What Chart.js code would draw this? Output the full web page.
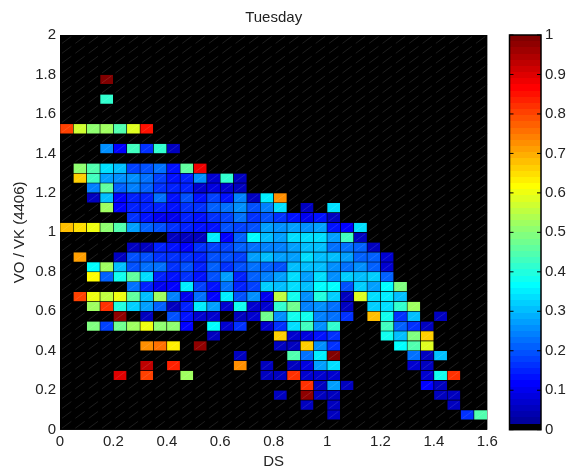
<!DOCTYPE html>
<html>
<head>
<meta charset="utf-8">
<title>Tuesday</title>
<script src="https://cdn.jsdelivr.net/npm/chart.js@4"></script>
<style>
    html, body { margin: 0; padding: 0; background: #fff; }
    #wrap { position: relative; width: 570px; height: 469px; overflow: hidden; }
    #wrap canvas { position: absolute; top: 0; }
    #heatChart { left: 0; }
    #barChart { left: 495px; }
</style>
</head>
<body>
<div id="wrap">
    <canvas id="heatChart" width="570" height="469"></canvas>
    <canvas id="barChart" width="75" height="469"></canvas>
</div>
<script>
const titleText = 'Tuesday';
const xLabel = 'DS';
const yLabel = 'VO / VK (4406)';
const xTicks = [0, 0.2, 0.4, 0.6, 0.8, 1, 1.2, 1.4, 1.6];
const yTicks = [0, 0.2, 0.4, 0.6, 0.8, 1, 1.2, 1.4, 1.6, 1.8, 2];
const barTicks = [0, 0.1, 0.2, 0.3, 0.4, 0.5, 0.6, 0.7, 0.8, 0.9, 1];
const binSize = 0.05;
const colCount = 32;

// first row is the bottom one (y 0 - 0.05), cells left out on the right are empty
const cellRows = [
    [],
    [0,0,0,0,0,0,0,0,0,0,0,0,0,0,0,0,0,0,0,0,.06,0,0,0,0,0,0,0,0,0,.17,.44],
    [0,0,0,0,0,0,0,0,0,0,0,0,0,0,0,0,0,0,.06,0,.06,0,0,0,0,0,0,0,0,.06],
    [0,0,0,0,0,0,0,0,0,0,0,0,0,0,0,0,.06,0,.98,.06,.06,0,0,0,0,0,0,0,.06,.06],
    [0,0,0,0,0,0,0,0,0,0,0,0,0,0,0,0,0,0,.82,.06,.27,.06,0,0,0,0,0,.12,.06],
    [0,0,0,0,.9,0,.8,0,0,.53,0,0,0,0,0,.06,.06,.82,.07,.07,.07,0,0,0,0,0,0,.07,.38,.82],
    [0,0,0,0,0,0,.93,0,.83,0,0,0,0,.72,0,.06,0,.06,.08,.28,.33,0,0,0,0,0,.07,.06],
    [0,0,0,0,0,0,0,0,0,0,0,0,0,.06,0,0,0,.44,.23,.35,1,0,0,0,0,0,.22,.06,.31],
    [0,0,0,0,0,0,.72,.76,.63,0,.98,0,0,0,0,0,.06,.06,.67,.25,.17,0,0,0,0,.37,.45,.58],
    [0,0,0,0,0,0,0,0,0,0,0,.06,0,0,0,0,.67,.07,.08,.13,.16,0,0,0,.38,.3,.49,.67],
    [0,0,.49,.18,.48,.53,.6,.51,.5,.12,0,.37,.07,.16,0,.07,.17,.33,.43,.25,.41,0,0,0,.43,.21,.16,.05],
    [0,0,0,0,.98,0,.05,0,.19,.14,.07,.07,0,.06,.07,.48,.25,.38,.38,.24,.22,.17,0,.68,.38,.17,.3,0,.05],
    [0,0,.53,.82,.4,.32,.28,.21,.06,.15,.35,.27,.07,.39,.07,.07,.41,.47,.24,.25,.23,.06,0,.32,.34,.41,.53],
    [0,.8,.6,.55,.6,.46,.31,.52,.24,.1,.23,.11,.35,.19,.25,.1,.55,.38,.25,.4,.32,.06,.58,.33,.35,.3],
    [0,0,0,0,0,.23,.15,.1,.12,.35,.18,.13,.23,.15,.18,.32,.3,.34,.3,.37,.37,.19,.32,.27,.36,.49],
    [0,0,.62,.21,.38,.46,.34,.15,.14,.16,.14,.2,.27,.15,.21,.24,.27,.34,.27,.34,.25,.32,.3,.32,.21],
    [0,0,.37,.53,.3,.2,.22,.23,.17,.19,.15,.21,.17,.19,.23,.21,.19,.3,.3,.31,.25,.23,.26,.21,.07],
    [0,.71,0,0,.05,.19,.2,.16,.17,.16,.15,.2,.2,.18,.27,.3,.27,.27,.34,.31,.31,.27,.21,.21,.07],
    [0,0,0,0,0,.06,.06,.15,.13,.12,.17,.18,.18,.21,.22,.24,.24,.28,.3,.3,.22,.23,.21,.05],
    [0,0,0,0,0,0,0,0,.06,.06,.05,.35,.11,.21,.36,.31,.27,.34,.33,.33,.27,.43,.05],
    [.68,.65,.6,.5,.45,.27,.21,.2,.17,.15,.13,.13,.19,.18,.2,.28,.25,.28,.26,.28,.13,.11,.33],
    [0,0,0,0,0,.16,.13,.1,.1,.15,.13,.17,.18,.23,.17,.2,.17,.13,.1,.13,.05],
    [0,0,0,.53,.12,.15,.15,.15,.14,.16,.17,.21,.23,.26,.19,.24,.33,0,.05,0,.33],
    [0,0,.05,.3,.11,.15,.15,.22,.13,.2,.13,.18,.14,.24,.05,.35,.72],
    [0,0,.24,.46,.21,.24,.21,.16,.15,.15,.07,.09,.07,.05],
    [0,.66,.43,.27,.25,.26,.23,.18,.14,.15,.25,.07,.41,.05],
    [0,.5,.44,.33,.31,.18,.2,.23,.13,.46,.88],
    [],
    [0,0,0,.25,.12,.43,.17,.42,.05],
    [],
    [.8,.57,.5,.52,.45,.58,.85],
    [],
    [],
    [0,0,0,.42],
    [],
    [0,0,0,.99],
    [],
    [],
    [],
    []
];

const clamp01 = v => Math.max(0, Math.min(1, v));

// 64 step jet map where the lowest step is black
function levelColor(v) {
    const idx = Math.min(63, Math.floor(v * 64));
    if (idx === 0) return 'rgb(0,0,0)';
    const t = (idx + 1) / 64;
    const r = clamp01(Math.min(4 * t - 1.5, -4 * t + 4.5));
    const g = clamp01(Math.min(4 * t - 0.5, -4 * t + 3.5));
    const b = clamp01(Math.min(4 * t + 0.5, -4 * t + 2.5));
    return `rgb(${Math.round(r * 255)},${Math.round(g * 255)},${Math.round(b * 255)})`;
}

const cells = [];
cellRows.forEach((row, r) => {
    for (let c = 0; c < colCount; c++) {
        cells.push({
            x: (c + 0.5) * binSize,
            y: [r * binSize, (r + 1) * binSize],
            v: row[c] || 0
        });
    }
});

const font = { family: '"Liberation Sans", Arial, sans-serif', size: 15 };
const inkColor = '#222';

// black backing, then thin diagonal seams across every cell
const seamPlugin = {
    id: 'seams',
    beforeDatasetsDraw(chart) {
        const { ctx, chartArea: a } = chart;
        ctx.save();
        ctx.fillStyle = '#000';
        ctx.fillRect(a.left, a.top, a.right - a.left, a.bottom - a.top);
        ctx.restore();
    },
    afterDatasetsDraw(chart) {
        const { ctx, scales: { x, y } } = chart;
        ctx.save();
        ctx.strokeStyle = 'rgba(255,255,255,0.2)';
        ctx.lineWidth = 0.6;
        ctx.beginPath();
        cells.forEach(cell => {
            const x0 = x.getPixelForValue(cell.x - binSize / 2) + 2;
            const x1 = x.getPixelForValue(cell.x + binSize / 2) - 2;
            const y0 = y.getPixelForValue(cell.y[0]) - 1.5;
            const y1 = y.getPixelForValue(cell.y[1]) + 1.5;
            ctx.moveTo(x0, y0);
            ctx.lineTo(x1, y1);
        });
        ctx.stroke();
        ctx.restore();
    }
};

new Chart(document.getElementById('heatChart'), {
    type: 'bar',
    data: {
        datasets: [{
            data: cells,
            backgroundColor: c => levelColor(c.raw.v),
            borderColor: '#000',
            borderWidth: 0.6,
            borderSkipped: false,
            barPercentage: 1,
            categoryPercentage: 1
        }]
    },
    options: {
        responsive: false,
        animation: false,
        events: [],
        layout: { padding: { left: 0, right: 82.7, top: 0, bottom: 0 } },
        plugins: {
            legend: { display: false },
            tooltip: { enabled: false },
            title: {
                display: true,
                text: titleText,
                color: inkColor,
                fullSize: false,
                font: { family: font.family, size: 15, weight: 'normal' },
                padding: { top: 9, bottom: 8 }
            }
        },
        scales: {
            x: {
                type: 'linear',
                offset: false,
                min: 0,
                max: 1.6,
                grid: { display: false, drawTicks: false },
                border: { display: false },
                afterBuildTicks: s => { s.ticks = xTicks.map(v => ({ value: v })); },
                afterFit: s => { s.height = 39.3; },
                ticks: { color: inkColor, font, autoSkip: false, maxRotation: 0, padding: 3, callback: v => String(v) },
                title: { display: true, text: xLabel, color: inkColor, font: { ...font, lineHeight: 1 }, padding: 0 }
            },
            y: {
                type: 'linear',
                min: 0,
                max: 2,
                grid: { display: false, drawTicks: false },
                border: { display: false },
                afterBuildTicks: s => { s.ticks = yTicks.map(v => ({ value: v })); },
                afterFit: s => { s.width = 60; },
                ticks: { color: inkColor, font, autoSkip: false, padding: 4, callback: v => String(v) },
                title: { display: true, text: yLabel, color: inkColor, font, padding: { top: 11, bottom: 0 } }
            }
        }
    },
    plugins: [seamPlugin]
});

// colour bar: one bar from 0 to 1 filled with the stepped colour map
function stepGradient(c) {
    const area = c.chart.chartArea;
    if (!area) return '#000';
    const g = c.chart.ctx.createLinearGradient(0, area.bottom, 0, area.top);
    for (let i = 0; i < 64; i++) {
        const col = levelColor((i + 0.5) / 64);
        g.addColorStop(i / 64, col);
        g.addColorStop((i + 1) / 64, col);
    }
    return g;
}

const barFramePlugin = {
    id: 'barFrame',
    afterDatasetsDraw(chart) {
        const { ctx, chartArea: a, scales: { y } } = chart;
        ctx.save();
        ctx.strokeStyle = '#000';
        ctx.lineWidth = 1.5;
        ctx.strokeRect(a.left, a.top, a.right - a.left, a.bottom - a.top);
        ctx.lineWidth = 1;
        ctx.beginPath();
        barTicks.forEach(v => {
            const py = y.getPixelForValue(v);
            ctx.moveTo(a.left, py);
            ctx.lineTo(a.left + 4, py);
            ctx.moveTo(a.right - 4, py);
            ctx.lineTo(a.right, py);
        });
        ctx.stroke();
        ctx.restore();
    }
};

new Chart(document.getElementById('barChart'), {
    type: 'bar',
    data: {
        labels: [''],
        datasets: [{
            data: [[0, 1]],
            backgroundColor: stepGradient,
            borderWidth: 0,
            barPercentage: 1,
            categoryPercentage: 1
        }]
    },
    options: {
        responsive: false,
        animation: false,
        events: [],
        layout: { padding: { left: 14.5, right: 0, top: 35, bottom: 39.3 } },
        plugins: { legend: { display: false }, tooltip: { enabled: false } },
        scales: {
            x: { display: false },
            y: {
                position: 'right',
                min: 0,
                max: 1,
                grid: { display: false, drawTicks: false },
                border: { display: false },
                afterBuildTicks: s => { s.ticks = barTicks.map(v => ({ value: v })); },
                afterFit: s => { s.width = 29; },
                ticks: { color: inkColor, font, autoSkip: false, padding: 4, callback: v => String(v) }
            }
        }
    },
    plugins: [barFramePlugin]
});
</script>
</body>
</html>
